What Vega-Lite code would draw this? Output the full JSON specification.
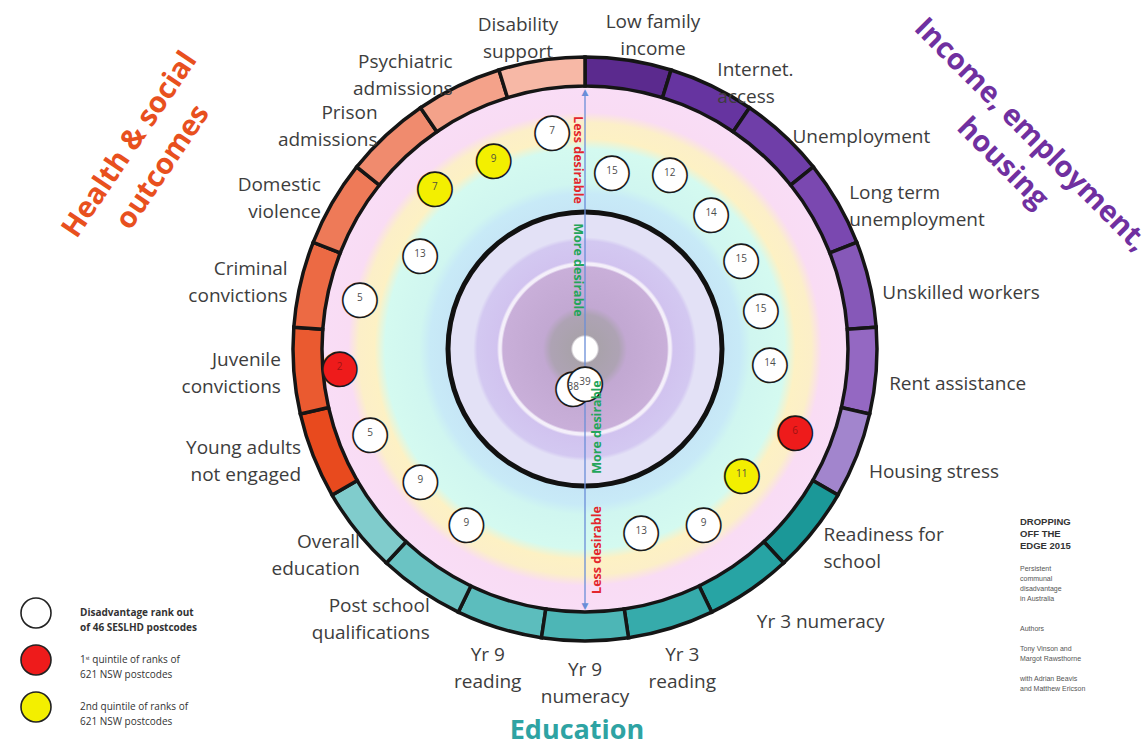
{
  "$schema": "https://vega.github.io/schema/vega-lite/v6.json",
  "width": 1120,
  "height": 698,
  "autosize": {"type": "none"},
  "padding": {"left": 25, "top": 0, "right": 0, "bottom": 44},
  "background": "white",
  "config": {"view": {"stroke": null}},
  "title": {
    "text": ["DROPPING", "OFF THE", "EDGE 2015"],
    "subtitle": ["Persistent", "communal", "disadvantage", "in Australia", "\u2800", "\u2800", "Authors", "\u2800", "Tony Vinson and", "Margot Rawsthorne", "\u2800", "with Adrian Beavis", "and Matthew Ericson"],
    "orient": "bottom",
    "anchor": "end",
    "align": "left",
    "frame": "group",
    "offset": 0,
    "dx": -125,
    "dy": -227,
    "font": "Liberation Sans",
    "fontSize": 9.5,
    "fontWeight": "bold",
    "color": "#333333",
    "lineHeight": 12,
    "subtitleFont": "Liberation Sans",
    "subtitleFontSize": 7,
    "subtitleColor": "#555555",
    "subtitleLineHeight": 10,
    "subtitlePadding": 14
  },
  "datasets": {
    "ind": [
      {"idx": 0, "indicator": "Low family income", "label": "Low family\nincome", "group": "Income", "rank": 15, "quintile": "other", "share": 1},
      {"idx": 1, "indicator": "Internet access", "label": "Internet.\naccess", "group": "Income", "rank": 12, "quintile": "other", "share": 1},
      {"idx": 2, "indicator": "Unemployment", "label": "Unemployment", "group": "Income", "rank": 14, "quintile": "other", "share": 1},
      {"idx": 3, "indicator": "Long term unemployment", "label": "Long term\nunemployment", "group": "Income", "rank": 15, "quintile": "other", "share": 1},
      {"idx": 4, "indicator": "Unskilled workers", "label": "Unskilled workers", "group": "Income", "rank": 15, "quintile": "other", "share": 1},
      {"idx": 5, "indicator": "Rent assistance", "label": "Rent assistance", "group": "Income", "rank": 14, "quintile": "other", "share": 1},
      {"idx": 6, "indicator": "Housing stress", "label": "Housing stress", "group": "Income", "rank": 6, "quintile": "1st", "share": 1},
      {"idx": 7, "indicator": "Readiness for school", "label": "Readiness for\nschool", "group": "Education", "rank": 11, "quintile": "2nd", "share": 1},
      {"idx": 8, "indicator": "Yr 3 numeracy", "label": "Yr 3 numeracy", "group": "Education", "rank": 9, "quintile": "other", "share": 1},
      {"idx": 9, "indicator": "Yr 3 reading", "label": "Yr 3\nreading", "group": "Education", "rank": 13, "quintile": "other", "share": 1},
      {"idx": 11, "indicator": "Yr 9 reading", "label": "Yr 9\nreading", "group": "Education", "rank": 38, "quintile": "other", "share": 1},
      {"idx": 10, "indicator": "Yr 9 numeracy", "label": "Yr 9\nnumeracy", "group": "Education", "rank": 39, "quintile": "other", "share": 1},
      {"idx": 12, "indicator": "Post school qualifications", "label": "Post school\nqualifications", "group": "Education", "rank": 9, "quintile": "other", "share": 1},
      {"idx": 13, "indicator": "Overall education", "label": "Overall\neducation", "group": "Education", "rank": 9, "quintile": "other", "share": 1},
      {"idx": 14, "indicator": "Young adults not engaged", "label": "Young adults\nnot engaged", "group": "Health", "rank": 5, "quintile": "other", "share": 1},
      {"idx": 15, "indicator": "Juvenile convictions", "label": "Juvenile\nconvictions", "group": "Health", "rank": 2, "quintile": "1st", "share": 1},
      {"idx": 16, "indicator": "Criminal convictions", "label": "Criminal\nconvictions", "group": "Health", "rank": 5, "quintile": "other", "share": 1},
      {"idx": 17, "indicator": "Domestic violence", "label": "Domestic\nviolence", "group": "Health", "rank": 13, "quintile": "other", "share": 1},
      {"idx": 18, "indicator": "Prison admissions", "label": "Prison\nadmissions", "group": "Health", "rank": 7, "quintile": "2nd", "share": 1},
      {"idx": 19, "indicator": "Psychiatric admissions", "label": "Psychiatric\nadmissions", "group": "Health", "rank": 9, "quintile": "2nd", "share": 1},
      {"idx": 20, "indicator": "Disability support", "label": "Disability\nsupport", "group": "Health", "rank": 7, "quintile": "other", "share": 1}
    ],
    "groups": [
      {"group": "Income", "title": "Income, employment,\nhousing"},
      {"group": "Education", "title": "Education"},
      {"group": "Health", "title": "Health & social\noutcomes"}
    ]
  },
  "layer": [
    {
      "data": {"values": [{"part": "background bands"}]},
      "mark": {
        "type": "arc", "theta": 0, "theta2": 6.283185307179586, "radius": 263,
        "fill": {
          "gradient": "radial", "x1": 0.5, "y1": 0.5, "r1": 0, "x2": 0.5, "y2": 0.5, "r2": 0.5,
          "stops": [
            {"offset": 0, "color": "#ffffff"},
            {"offset": 0.046, "color": "#ffffff"},
            {"offset": 0.054, "color": "#a9a2ab"},
            {"offset": 0.13, "color": "#aea3b4"},
            {"offset": 0.16, "color": "#c2a8d2"},
            {"offset": 0.312, "color": "#c9afd9"},
            {"offset": 0.319, "color": "#f4effa"},
            {"offset": 0.327, "color": "#f4effa"},
            {"offset": 0.335, "color": "#d1c3ef"},
            {"offset": 0.41, "color": "#d3c8f1"},
            {"offset": 0.425, "color": "#e3e1f6"},
            {"offset": 0.515, "color": "#e3e1f6"},
            {"offset": 0.525, "color": "#c6e6f6"},
            {"offset": 0.59, "color": "#c8eaf7"},
            {"offset": 0.63, "color": "#d0f6f0"},
            {"offset": 0.76, "color": "#d4faf0"},
            {"offset": 0.8, "color": "#fdf1c4"},
            {"offset": 0.86, "color": "#fcefc8"},
            {"offset": 0.9, "color": "#f9dcf4"},
            {"offset": 1, "color": "#f9ddf6"}
          ]
        }
      },
      "encoding": {}
    },
    {
      "data": {"values": [{"part": "median circle"}]},
      "mark": {"type": "arc", "theta": 0, "theta2": 6.283185307179586, "radius": 139.5, "radius2": 134.5, "fill": "#111111"},
      "encoding": {}
    },
    {
      "data": {"name": "ind"},
      "mark": {"type": "arc", "radius": 292, "radius2": 263, "stroke": "#151515", "strokeWidth": 3.5},
      "encoding": {
        "theta": {"field": "share", "type": "quantitative", "stack": true},
        "order": {"field": "idx", "type": "quantitative", "sort": "ascending"},
        "fill": {
          "field": "indicator", "type": "nominal", "legend": null,
          "scale": {
            "domain": ["Low family income", "Internet access", "Unemployment", "Long term unemployment", "Unskilled workers", "Rent assistance", "Housing stress", "Readiness for school", "Yr 3 numeracy", "Yr 3 reading", "Yr 9 numeracy", "Yr 9 reading", "Post school qualifications", "Overall education", "Young adults not engaged", "Juvenile convictions", "Criminal convictions", "Domestic violence", "Prison admissions", "Psychiatric admissions", "Disability support"],
            "range": ["#5b2a8e", "#6634a0", "#6f3ea8", "#7a48b0", "#8658b8", "#9468c2", "#a285cd", "#1b9898", "#27a4a4", "#36abab", "#4db6b6", "#5cbdbd", "#6ac3c3", "#80cccc", "#e84a1e", "#ea5a30", "#ec6a44", "#ee7a58", "#f08b6e", "#f4a28a", "#f7b8a6"]
          }
        }
      }
    },
    {
      "data": {"values": [{"part": "axis top"}]},
      "mark": {"type": "arc", "theta": 0, "theta2": 0, "radius": 258, "radius2": 0, "filled": false, "stroke": "#6a8ed8", "strokeWidth": 1.3},
      "encoding": {}
    },
    {
      "data": {"values": [{"part": "axis bottom"}]},
      "mark": {"type": "arc", "theta": 3.141592653589793, "theta2": 3.141592653589793, "radius": 258, "radius2": 0, "filled": false, "stroke": "#6a8ed8", "strokeWidth": 1.3},
      "encoding": {}
    },
    {
      "data": {"values": [{"t": "▲"}]},
      "mark": {"type": "text", "theta": 0, "radius": 257, "font": "DejaVu Sans", "fontSize": 9, "fill": "#6a8ed8", "baseline": "middle", "align": "center"},
      "encoding": {"text": {"field": "t"}}
    },
    {
      "data": {"values": [{"t": "▼"}]},
      "mark": {"type": "text", "theta": 3.141592653589793, "radius": 257, "font": "DejaVu Sans", "fontSize": 9, "fill": "#6a8ed8", "baseline": "middle", "align": "center"},
      "encoding": {"text": {"field": "t"}}
    },
    {
      "data": {"name": "ind"},
      "mark": {"type": "text", "text": "●", "font": "DejaVu Sans", "fontSize": 45, "baseline": "middle", "align": "center", "stroke": "#1a1a1a", "strokeWidth": 1.6},
      "encoding": {
        "theta": {"field": "indicator", "type": "nominal", "scale": {"type": "point", "domain": ["Low family income", "Internet access", "Unemployment", "Long term unemployment", "Unskilled workers", "Rent assistance", "Housing stress", "Readiness for school", "Yr 3 numeracy", "Yr 3 reading", "Yr 9 numeracy", "Yr 9 reading", "Post school qualifications", "Overall education", "Young adults not engaged", "Juvenile convictions", "Criminal convictions", "Domestic violence", "Prison admissions", "Psychiatric admissions", "Disability support"], "range": [0, 6.283185307179586], "padding": 0.5}},
        "radius": {"field": "rank", "type": "quantitative", "scale": {"type": "linear", "domain": [1, 23, 44], "range": [251, 140, 0], "zero": false, "nice": false}},
        "fill": {
          "field": "quintile", "type": "nominal",
          "scale": {"domain": ["other", "1st", "2nd"], "range": ["#ffffff", "#ee1b1b", "#f3ef00"]},
          "legend": {
            "orient": "none", "legendX": -5, "legendY": 597, "title": null, "padding": 0,
            "symbolType": "circle", "symbolSize": 900, "symbolStrokeColor": "#222222", "symbolStrokeWidth": 1.6,
            "labelFont": "Open Sans", "labelFontSize": 10, "labelColor": "#333333", "labelOffset": 28, "labelLimit": 0, "rowPadding": 8,
            "labelExpr": "datum.value === 'other' ? ['Disadvantage rank out', 'of 46 SESLHD postcodes'] : datum.value === '1st' ? ['1ˢᵗ quintile of ranks of', '621 NSW postcodes'] : ['2nd quintile  of ranks of', '621 NSW postcodes']",
            "encode": {"labels": {"update": {"fontWeight": {"signal": "datum.value === 'other' ? 'bold' : 'normal'"}, "lineHeight": {"value": 15}}}}
          }
        }
      }
    },
    {
      "data": {"name": "ind"},
      "mark": {"type": "text", "font": "Open Sans", "fontSize": 10, "baseline": "middle", "align": "center"},
      "encoding": {
        "theta": {"field": "indicator", "type": "nominal", "scale": {"type": "point", "domain": ["Low family income", "Internet access", "Unemployment", "Long term unemployment", "Unskilled workers", "Rent assistance", "Housing stress", "Readiness for school", "Yr 3 numeracy", "Yr 3 reading", "Yr 9 numeracy", "Yr 9 reading", "Post school qualifications", "Overall education", "Young adults not engaged", "Juvenile convictions", "Criminal convictions", "Domestic violence", "Prison admissions", "Psychiatric admissions", "Disability support"], "range": [0, 6.283185307179586], "padding": 0.5}},
        "radius": {"field": "rank", "type": "quantitative", "scale": {"type": "linear", "domain": [1, 23, 44], "range": [251, 140, 0], "zero": false, "nice": false}},
        "text": {"field": "rank", "type": "quantitative"},
        "fill": {"field": "quintile", "type": "nominal", "scale": {"domain": ["other", "1st", "2nd"], "range": ["#4d4d4d", "#a01414", "#55553a"]}, "legend": null}
      }
    },
    {
      "data": {"values": [{"t": "Less desirable"}]},
      "mark": {"type": "text", "theta": 0, "radius": 189, "angle": 90, "dy": 7, "font": "Open Sans", "fontSize": 12.5, "fontWeight": "bold", "fill": "#e3262d", "baseline": "middle", "align": "center"},
      "encoding": {"text": {"field": "t"}}
    },
    {
      "data": {"values": [{"t": "More desirable"}]},
      "mark": {"type": "text", "theta": 0, "radius": 79, "angle": 90, "dy": 7, "font": "Open Sans", "fontSize": 12.5, "fontWeight": "bold", "fill": "#23a55a", "baseline": "middle", "align": "center"},
      "encoding": {"text": {"field": "t"}}
    },
    {
      "data": {"values": [{"t": "More desirable"}]},
      "mark": {"type": "text", "theta": 3.141592653589793, "radius": 78, "angle": 270, "dy": 12, "font": "Open Sans", "fontSize": 12.5, "fontWeight": "bold", "fill": "#23a55a", "baseline": "middle", "align": "center"},
      "encoding": {"text": {"field": "t"}}
    },
    {
      "data": {"values": [{"t": "Less desirable"}]},
      "mark": {"type": "text", "theta": 3.141592653589793, "radius": 201, "angle": 270, "dy": 12, "font": "Open Sans", "fontSize": 12.5, "fontWeight": "bold", "fill": "#e3262d", "baseline": "middle", "align": "center"},
      "encoding": {"text": {"field": "t"}}
    },
    {
      "data": {"name": "ind"},
      "transform": [{"filter": {"field": "indicator", "oneOf": ["Unemployment", "Unskilled workers", "Rent assistance", "Housing stress"]}}],
      "mark": {"type": "text", "radius": 305, "dy": 12, "align": "left", "baseline": "middle", "font": "Open Sans", "fontSize": 19, "lineHeight": 27, "lineBreak": "\n", "fill": "#3d3d3d"},
      "encoding": {
        "theta": {"field": "indicator", "type": "nominal", "scale": {"type": "point", "domain": ["Low family income", "Internet access", "Unemployment", "Long term unemployment", "Unskilled workers", "Rent assistance", "Housing stress", "Readiness for school", "Yr 3 numeracy", "Yr 3 reading", "Yr 9 numeracy", "Yr 9 reading", "Post school qualifications", "Overall education", "Young adults not engaged", "Juvenile convictions", "Criminal convictions", "Domestic violence", "Prison admissions", "Psychiatric admissions", "Disability support"], "range": [0, 6.283185307179586], "padding": 0.5}},
        "text": {"field": "label", "type": "nominal"}
      }
    },
    {
      "data": {"name": "ind"},
      "transform": [{"filter": {"field": "indicator", "equal": "Yr 3 numeracy"}}],
      "mark": {"type": "text", "radius": 305, "dy": 21, "align": "left", "baseline": "middle", "font": "Open Sans", "fontSize": 19, "fill": "#3d3d3d"},
      "encoding": {
        "theta": {"field": "indicator", "type": "nominal", "scale": {"type": "point", "domain": ["Low family income", "Internet access", "Unemployment", "Long term unemployment", "Unskilled workers", "Rent assistance", "Housing stress", "Readiness for school", "Yr 3 numeracy", "Yr 3 reading", "Yr 9 numeracy", "Yr 9 reading", "Post school qualifications", "Overall education", "Young adults not engaged", "Juvenile convictions", "Criminal convictions", "Domestic violence", "Prison admissions", "Psychiatric admissions", "Disability support"], "range": [0, 6.283185307179586], "padding": 0.5}},
        "text": {"field": "label", "type": "nominal"}
      }
    },
    {
      "data": {"name": "ind"},
      "transform": [{"filter": {"field": "indicator", "oneOf": ["Internet access", "Long term unemployment", "Readiness for school"]}}],
      "mark": {"type": "text", "radius": 305, "dy": -4, "align": "left", "baseline": "middle", "font": "Open Sans", "fontSize": 19, "lineHeight": 27, "lineBreak": "\n", "fill": "#3d3d3d"},
      "encoding": {
        "theta": {"field": "indicator", "type": "nominal", "scale": {"type": "point", "domain": ["Low family income", "Internet access", "Unemployment", "Long term unemployment", "Unskilled workers", "Rent assistance", "Housing stress", "Readiness for school", "Yr 3 numeracy", "Yr 3 reading", "Yr 9 numeracy", "Yr 9 reading", "Post school qualifications", "Overall education", "Young adults not engaged", "Juvenile convictions", "Criminal convictions", "Domestic violence", "Prison admissions", "Psychiatric admissions", "Disability support"], "range": [0, 6.283185307179586], "padding": 0.5}},
        "text": {"field": "label", "type": "nominal"}
      }
    },
    {
      "data": {"name": "ind"},
      "transform": [{"filter": {"field": "indicator", "oneOf": ["Young adults not engaged", "Juvenile convictions", "Criminal convictions", "Domestic violence", "Prison admissions", "Psychiatric admissions"]}}],
      "mark": {"type": "text", "radius": 305, "dy": -12, "align": "right", "baseline": "middle", "font": "Open Sans", "fontSize": 19, "lineHeight": 27, "lineBreak": "\n", "fill": "#3d3d3d"},
      "encoding": {
        "theta": {"field": "indicator", "type": "nominal", "scale": {"type": "point", "domain": ["Low family income", "Internet access", "Unemployment", "Long term unemployment", "Unskilled workers", "Rent assistance", "Housing stress", "Readiness for school", "Yr 3 numeracy", "Yr 3 reading", "Yr 9 numeracy", "Yr 9 reading", "Post school qualifications", "Overall education", "Young adults not engaged", "Juvenile convictions", "Criminal convictions", "Domestic violence", "Prison admissions", "Psychiatric admissions", "Disability support"], "range": [0, 6.283185307179586], "padding": 0.5}},
        "text": {"field": "label", "type": "nominal"}
      }
    },
    {
      "data": {"name": "ind"},
      "transform": [{"filter": {"field": "indicator", "oneOf": ["Overall education", "Post school qualifications"]}}],
      "mark": {"type": "text", "radius": 320, "dx": 25, "dy": -7, "align": "right", "baseline": "middle", "font": "Open Sans", "fontSize": 19, "lineHeight": 27, "lineBreak": "\n", "fill": "#3d3d3d"},
      "encoding": {
        "theta": {"field": "indicator", "type": "nominal", "scale": {"type": "point", "domain": ["Low family income", "Internet access", "Unemployment", "Long term unemployment", "Unskilled workers", "Rent assistance", "Housing stress", "Readiness for school", "Yr 3 numeracy", "Yr 3 reading", "Yr 9 numeracy", "Yr 9 reading", "Post school qualifications", "Overall education", "Young adults not engaged", "Juvenile convictions", "Criminal convictions", "Domestic violence", "Prison admissions", "Psychiatric admissions", "Disability support"], "range": [0, 6.283185307179586], "padding": 0.5}},
        "text": {"field": "label", "type": "nominal"}
      }
    },
    {
      "data": {"name": "ind"},
      "transform": [{"filter": {"field": "indicator", "oneOf": ["Yr 3 reading", "Yr 9 numeracy", "Yr 9 reading"]}}],
      "mark": {"type": "text", "radius": 330, "dy": -9, "align": "center", "baseline": "middle", "font": "Open Sans", "fontSize": 19, "lineHeight": 27, "lineBreak": "\n", "fill": "#3d3d3d"},
      "encoding": {
        "theta": {"field": "indicator", "type": "nominal", "scale": {"type": "point", "domain": ["Low family income", "Internet access", "Unemployment", "Long term unemployment", "Unskilled workers", "Rent assistance", "Housing stress", "Readiness for school", "Yr 3 numeracy", "Yr 3 reading", "Yr 9 numeracy", "Yr 9 reading", "Post school qualifications", "Overall education", "Young adults not engaged", "Juvenile convictions", "Criminal convictions", "Domestic violence", "Prison admissions", "Psychiatric admissions", "Disability support"], "range": [0, 6.283185307179586], "padding": 0.5}},
        "text": {"field": "label", "type": "nominal"}
      }
    },
    {
      "data": {"name": "ind"},
      "transform": [{"filter": {"field": "indicator", "equal": "Disability support"}}],
      "mark": {"type": "text", "radius": 322, "dx": -19, "dy": -6, "align": "center", "baseline": "middle", "font": "Open Sans", "fontSize": 19, "lineHeight": 27, "lineBreak": "\n", "fill": "#3d3d3d"},
      "encoding": {
        "theta": {"field": "indicator", "type": "nominal", "scale": {"type": "point", "domain": ["Low family income", "Internet access", "Unemployment", "Long term unemployment", "Unskilled workers", "Rent assistance", "Housing stress", "Readiness for school", "Yr 3 numeracy", "Yr 3 reading", "Yr 9 numeracy", "Yr 9 reading", "Post school qualifications", "Overall education", "Young adults not engaged", "Juvenile convictions", "Criminal convictions", "Domestic violence", "Prison admissions", "Psychiatric admissions", "Disability support"], "range": [0, 6.283185307179586], "padding": 0.5}},
        "text": {"field": "label", "type": "nominal"}
      }
    },
    {
      "data": {"name": "ind"},
      "transform": [{"filter": {"field": "indicator", "equal": "Low family income"}}],
      "mark": {"type": "text", "radius": 322, "dx": 20, "dy": -9, "align": "center", "baseline": "middle", "font": "Open Sans", "fontSize": 19, "lineHeight": 27, "lineBreak": "\n", "fill": "#3d3d3d"},
      "encoding": {
        "theta": {"field": "indicator", "type": "nominal", "scale": {"type": "point", "domain": ["Low family income", "Internet access", "Unemployment", "Long term unemployment", "Unskilled workers", "Rent assistance", "Housing stress", "Readiness for school", "Yr 3 numeracy", "Yr 3 reading", "Yr 9 numeracy", "Yr 9 reading", "Post school qualifications", "Overall education", "Young adults not engaged", "Juvenile convictions", "Criminal convictions", "Domestic violence", "Prison admissions", "Psychiatric admissions", "Disability support"], "range": [0, 6.283185307179586], "padding": 0.5}},
        "text": {"field": "label", "type": "nominal"}
      }
    },
    {
      "data": {"name": "groups"},
      "transform": [{"filter": {"field": "group", "equal": "Income"}}],
      "mark": {"type": "text", "radius": 475, "angle": 45, "dx": 41, "dy": -8, "align": "center", "baseline": "middle", "font": "Open Sans", "fontSize": 29, "fontWeight": "bold", "lineHeight": 40, "lineBreak": "\n", "fill": "#7030a0"},
      "encoding": {
        "theta": {"field": "group", "type": "nominal", "scale": {"type": "point", "domain": ["Income", "Education", "Health"], "range": [0, 6.283185307179586], "padding": 0.5}},
        "text": {"field": "title", "type": "nominal"}
      }
    },
    {
      "data": {"name": "groups"},
      "transform": [{"filter": {"field": "group", "equal": "Education"}}],
      "mark": {"type": "text", "radius": 382, "dx": -8, "align": "center", "baseline": "middle", "font": "Open Sans", "fontSize": 27, "fontWeight": "bold", "fill": "#2ea3a3"},
      "encoding": {
        "theta": {"field": "group", "type": "nominal", "scale": {"type": "point", "domain": ["Income", "Education", "Health"], "range": [0, 6.283185307179586], "padding": 0.5}},
        "text": {"field": "title", "type": "nominal"}
      }
    },
    {
      "data": {"name": "groups"},
      "transform": [{"filter": {"field": "group", "equal": "Health"}}],
      "mark": {"type": "text", "radius": 477, "angle": -56, "dx": -52, "dy": -16, "align": "center", "baseline": "middle", "font": "Open Sans", "fontSize": 29, "fontWeight": "bold", "lineHeight": 40, "lineBreak": "\n", "fill": "#e8501e"},
      "encoding": {
        "theta": {"field": "group", "type": "nominal", "scale": {"type": "point", "domain": ["Income", "Education", "Health"], "range": [0, 6.283185307179586], "padding": 0.5}},
        "text": {"field": "title", "type": "nominal"}
      }
    }
  ],
  "resolve": {
    "scale": {"theta": "independent", "fill": "independent", "radius": "independent"},
    "legend": {"fill": "independent"}
  }
}
